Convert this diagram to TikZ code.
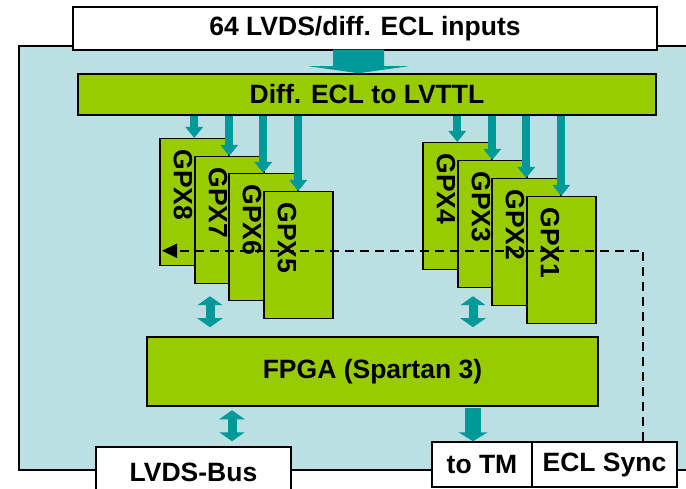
\documentclass[tikz,border=0pt]{standalone}
\usepackage{fontspec}
\setmainfont{Liberation Sans}
\usepackage{xcolor}
\usepackage{tikz}
\usetikzlibrary{positioning,arrows.meta,calc}
\definecolor{panelblue}{RGB}{187,224,227}
\definecolor{chipgreen}{RGB}{153,204,0}
\definecolor{flowteal}{RGB}{0,153,153}

\begin{document}
\begin{tikzpicture}[x=1pt,y=-1pt,
  box/.style={draw=black,line width=1.5pt,inner sep=0pt,font=\bfseries\fontsize{26.5}{30}\selectfont},
  whitebox/.style={box,fill=white},
  greenbox/.style={box,fill=chipgreen},
  gpxbox/.style={greenbox,anchor=north west,minimum width=69pt,minimum height=127pt},
  gpxlabel/.style={rotate=-90,inner sep=0pt,font=\bfseries\fontsize{26.5}{30}\selectfont},
  feed/.style={flowteal,line width=8pt,-{Triangle[width=17pt,length=11pt]}},
  bus/.style={flowteal,line width=9pt,{Triangle[width=25pt,length=9pt]}-{Triangle[width=25pt,length=9pt]}},
  outflow/.style={flowteal,line width=16pt,-{Triangle[width=29pt,length=9pt]}},
  syncline/.style={black,line width=1.8pt,dash pattern=on 9pt off 6pt,-{Triangle[width=14pt,length=15pt]}}]
  \useasboundingbox (0,0) rectangle (686,489);
  \clip (0,0) rectangle (686,489);
  % board
  \filldraw[fill=panelblue,draw=black,line width=1.5pt] (19,46) rectangle (700,470);
  % inputs and level converter
  \node[whitebox,minimum width=584pt,minimum height=43pt] (inputs) at (365,28.5) {64 LVDS/diff. ECL inputs};
  \node[greenbox,minimum width=578pt,minimum height=41pt] (diff) at (367,94.5) {Diff. ECL to LVTTL};
  \coordinate (bigtip) at ([xshift=-8.5pt]diff.north);
  \fill[flowteal] (bigtip) -- ++(-50,-7) -- ++(24.5,0) -- ++(0,-16.5) -- ++(51,0)
    -- ++(0,16.5) -- ++(24.5,0) -- cycle;
  % TDC chips, fed from the converter
  \foreach \n/\x/\y in {8/159/138,7/194/156,6/228/173,5/263/191,4/422/142,3/457/160,2/491/178,1/526/196} {
    \node[gpxbox] (gpx\n) at (\x,\y) {};
    \node[gpxlabel] (gpxl\n) at ([xshift=24pt,yshift=-47pt]gpx\n.north west) {GPX\n};
    \draw[feed] ([yshift=-0.75pt]diff.south -| gpx\n.north) -- (gpx\n.north);
  }
  % FPGA and outputs
  \node[greenbox,minimum width=451pt,minimum height=69pt] (fpga) at (372.5,371.5) {FPGA (Spartan 3)};
  \node[whitebox,minimum width=195pt,minimum height=50pt] (lvds) at (193.5,472) {LVDS-Bus};
  \node[whitebox,minimum width=100pt,minimum height=45pt] (tm) at (482,464.5) {to TM};
  \node[whitebox,minimum width=145pt,minimum height=45pt] (ecl) at (604.5,464.5) {ECL Sync};
  % links
  \coordinate (tmtop) at ([xshift=-9pt]tm.north);
  \draw[bus] ([xshift=-162.5pt,yshift=9pt]fpga.north) -- ++(0,-31);
  \draw[bus] ([yshift=9pt]fpga.north -| tmtop) -- ++(0,-31);
  \draw[bus] ([xshift=38.5pt,yshift=5pt]lvds.north) -- ++(0,-31);
  \draw[outflow] ([yshift=-0.75pt]fpga.south -| tmtop) -- (tmtop);
  % sync line back to the chips
  \coordinate (syncend) at ([xshift=3pt,yshift=-48.5pt]gpx8.west);
  \draw[syncline] ([xshift=38.5pt]ecl.north) |- (syncend);
\end{tikzpicture}
\end{document}
